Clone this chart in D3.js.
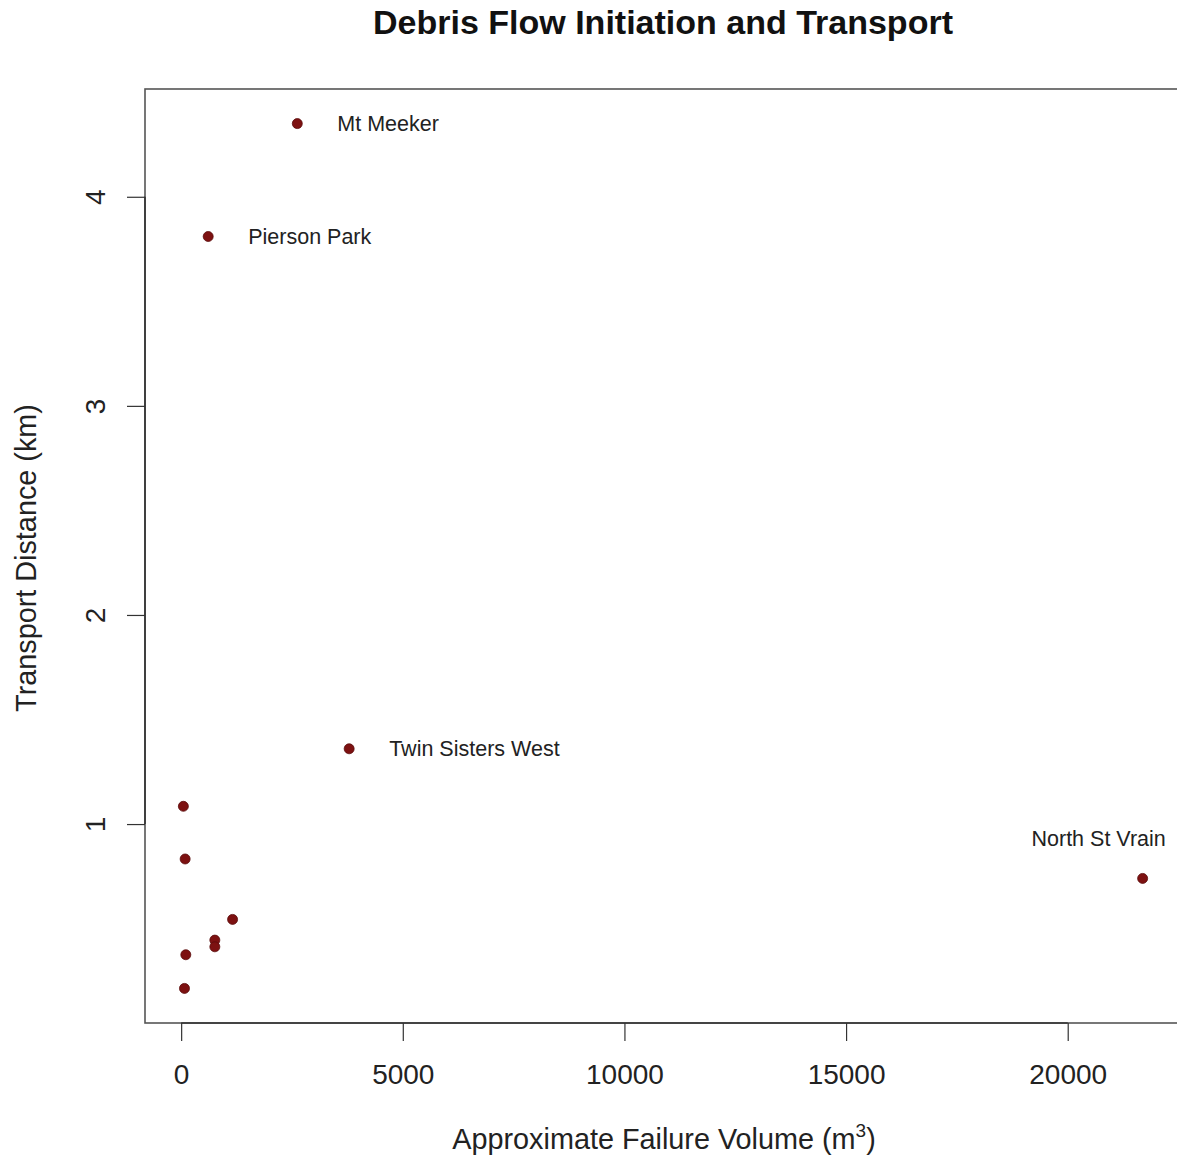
<!DOCTYPE html>
<html>
<head>
<meta charset="utf-8">
<script src="https://cdn.jsdelivr.net/npm/d3@7"></script>
<style>
  body { margin: 0; background: #fff; }
  svg { display: block; font-family: "Liberation Sans", Arial, sans-serif; }
</style>
</head>
<body>
<div id="chart"></div>
<script>
// Debris flow sites: failure volume (m3) vs transport distance (km)
const siteNames = ["Mt Meeker", "Pierson Park", "Twin Sisters West", "North St Vrain",
                   "", "", "", "", "", "", ""];
const failureVolume = [2620, 610, 3790, 21690, 50, 90, 1160, 760, 760, 105, 75];
const transportDistance = [4.35, 3.81, 1.36, 0.74, 1.085, 0.833, 0.544, 0.445, 0.413, 0.375, 0.214];
const xTicks = [0, 5000, 10000, 15000, 20000];
const yTicks = [1, 2, 3, 4];

const width = 1177, height = 1158;
const margin = { top: 89, right: -4, bottom: 135, left: 145 };

const points = siteNames.map((name, i) => ({
    name: name,
    volume: failureVolume[i],
    distance: transportDistance[i]
}));

// R style 4% padding on each end of the data range
function padded(ext) {
    const pad = (ext[1] - ext[0]) * 0.04;
    return [ext[0] - pad, ext[1] + pad];
}

const svg = d3.select("#chart").append("svg")
    .attr("width", width)
    .attr("height", height);

const x = d3.scaleLinear()
    .domain(padded(d3.extent(failureVolume)))
    .range([margin.left, width - margin.right]);

const y = d3.scaleLinear()
    .domain(padded(d3.extent(transportDistance)))
    .range([height - margin.bottom, margin.top]);

const plotBottom = height - margin.bottom;

// title
svg.append("text")
    .attr("x", (margin.left + width - margin.right) / 2)
    .attr("y", 34)
    .attr("text-anchor", "middle")
    .style("font-size", "34px")
    .style("font-weight", "bold")
    .attr("fill", "#111")
    .text("Debris Flow Initiation and Transport");

// plot frame
svg.append("rect")
    .attr("x", margin.left)
    .attr("y", margin.top)
    .attr("width", width - margin.right - margin.left)
    .attr("height", plotBottom - margin.top)
    .attr("fill", "none")
    .attr("stroke", "#555")
    .attr("stroke-width", 1.6);

// x axis
const xAxisG = svg.append("g")
    .attr("transform", `translate(0, ${plotBottom})`)
    .call(d3.axisBottom(x).tickValues(xTicks).tickSize(18).tickPadding(23).tickFormat(d3.format("d")));
xAxisG.select(".domain").remove();
xAxisG.append("line")
    .attr("x1", x(xTicks[0])).attr("x2", x(xTicks[xTicks.length - 1]))
    .attr("stroke", "#333").attr("stroke-width", 1.6);
xAxisG.selectAll(".tick line").attr("stroke", "#333").attr("stroke-width", 1.2);
xAxisG.selectAll("text")
    .attr("fill", "#222")
    .style("font-size", "28px")
    .style("font-family", "'Liberation Sans', Arial, sans-serif");

// y axis
const yAxisG = svg.append("g")
    .attr("transform", `translate(${margin.left}, 0)`)
    .call(d3.axisLeft(y).tickValues(yTicks).tickSize(18).tickFormat(d3.format("d")));
yAxisG.select(".domain").remove();
yAxisG.append("line")
    .attr("y1", y(yTicks[0])).attr("y2", y(yTicks[yTicks.length - 1]))
    .attr("stroke", "#333").attr("stroke-width", 1.6);
yAxisG.selectAll(".tick line").attr("stroke", "#333").attr("stroke-width", 1.2);
yAxisG.selectAll("text")
    .attr("transform", "rotate(-90)")
    .attr("x", 0)
    .attr("y", -40)
    .attr("dy", 0)
    .attr("text-anchor", "middle")
    .attr("fill", "#222")
    .style("font-size", "28px")
    .style("font-family", "'Liberation Sans', Arial, sans-serif");

// axis titles
const xTitle = svg.append("text")
    .attr("x", 664)
    .attr("y", 1149)
    .attr("text-anchor", "middle")
    .attr("fill", "#222")
    .style("font-size", "28.8px");
xTitle.append("tspan").text("Approximate Failure Volume (m");
xTitle.append("tspan").attr("dy", -12).style("font-size", "19px").text("3");
xTitle.append("tspan").attr("dy", 12).text(")");

svg.append("text")
    .attr("transform", "translate(36, 558) rotate(-90)")
    .attr("text-anchor", "middle")
    .attr("fill", "#222")
    .style("font-size", "28.8px")
    .text("Transport Distance (km)");

// points
svg.append("g")
    .selectAll("circle")
    .data(points)
    .join("circle")
    .attr("cx", d => x(d.volume))
    .attr("cy", d => y(d.distance))
    .attr("r", 5)
    .attr("fill", "#7d1111")
    .attr("stroke", "#5a0c0c")
    .attr("stroke-width", 0.8);

// labels: right of the point, except North St Vrain which sits above-left
const labelPlacement = {
    "North St Vrain": { dx: -44, dy: -32, anchor: "middle" }
};
svg.append("g")
    .selectAll("text")
    .data(points.filter(d => d.name))
    .join("text")
    .attr("x", d => x(d.volume) + (labelPlacement[d.name] ? labelPlacement[d.name].dx : 40))
    .attr("y", d => y(d.distance) + (labelPlacement[d.name] ? labelPlacement[d.name].dy : 7))
    .attr("text-anchor", d => labelPlacement[d.name] ? labelPlacement[d.name].anchor : "start")
    .attr("fill", "#222")
    .style("font-size", "21.5px")
    .text(d => d.name);
</script>
</body>
</html>
